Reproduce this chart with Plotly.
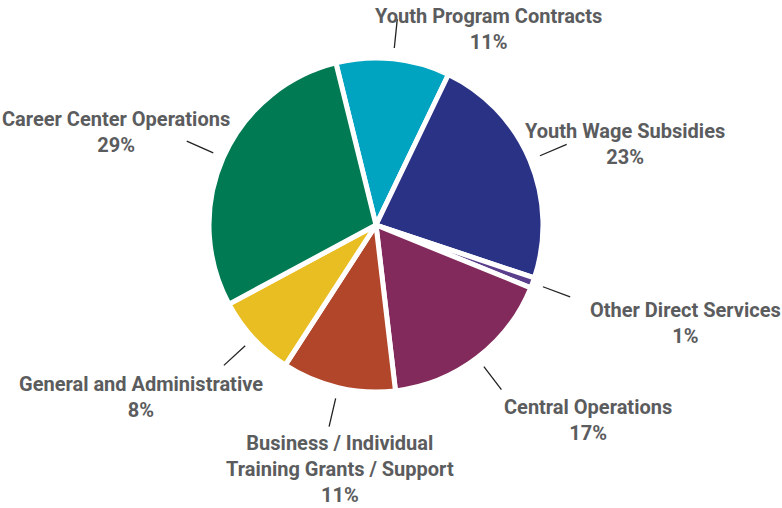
import math
import plotly.graph_objects as go

# ---- data ----
categories = [
    "Youth Program Contracts",
    "Youth Wage Subsidies",
    "Other Direct Services",
    "Central Operations",
    "Business / Individual<br>Training Grants / Support",
    "General and Administrative",
    "Career Center Operations",
]
values = [11, 23, 1, 17, 11, 8, 29]
pct_labels = ["11%", "23%", "1%", "17%", "11%", "8%", "29%"]

# ---- styles / layout ----
colors = ["#00A3C0", "#2A3286", "#5A3F8C", "#832A5C", "#B2462A", "#E9BE22", "#007A52"]
W, H = 782, 508
CX, CY, R = 376, 225, 167          # pie centre / radius in pixels
ROTATION = -13.9                   # start angle of first slice (deg, clockwise from top)
# label centres (pixels) for each category, in order
label_pos = [(488, 29), (625, 144), (685, 323), (588, 420), (340, 469), (141, 397), (116, 132)]
FONT = "Roboto"
TEXT_COLOR = "#5B5C5E"

fig = go.Figure(go.Pie(
    labels=categories,
    values=values,
    sort=False,
    direction="clockwise",
    rotation=ROTATION,
    marker=dict(colors=colors, line=dict(color="white", width=5)),
    textinfo="none",
    hoverinfo="label+percent",
    showlegend=False,
    domain=dict(x=[(CX - R) / W, (CX + R) / W], y=[(H - CY - R) / H, (H - CY + R) / H]),
))

total = sum(values)
shapes, annotations = [], []
cum = 0.0
for cat, v, pct, (lx, ly) in zip(categories, values, pct_labels, label_pos):
    mid = ROTATION + 360.0 * (cum + v / 2) / total
    cum += v
    a = math.radians(mid)
    r0, r1 = R + 11, R + 40
    x0, y0 = CX + r0 * math.sin(a), CY - r0 * math.cos(a)
    x1, y1 = CX + r1 * math.sin(a), CY - r1 * math.cos(a)
    shapes.append(dict(type="line", xref="paper", yref="paper",
                       x0=x0 / W, y0=1 - y0 / H, x1=x1 / W, y1=1 - y1 / H,
                       line=dict(color="#222222", width=1.3)))
    annotations.append(dict(xref="paper", yref="paper", x=lx / W, y=1 - ly / H,
                            text=f"{cat}<br>{pct}", showarrow=False, align="center",
                            xanchor="center", yanchor="middle",
                            font=dict(family=FONT, size=20, color=TEXT_COLOR, weight="bold")))

fig.update_layout(
    width=W, height=H,
    margin=dict(l=0, r=0, t=0, b=0),
    paper_bgcolor="white", plot_bgcolor="white",
    shapes=shapes, annotations=annotations,
)

fig.write_html("out.html", post_script="document.body.style.margin='0';",
               config={"displayModeBar": False})
